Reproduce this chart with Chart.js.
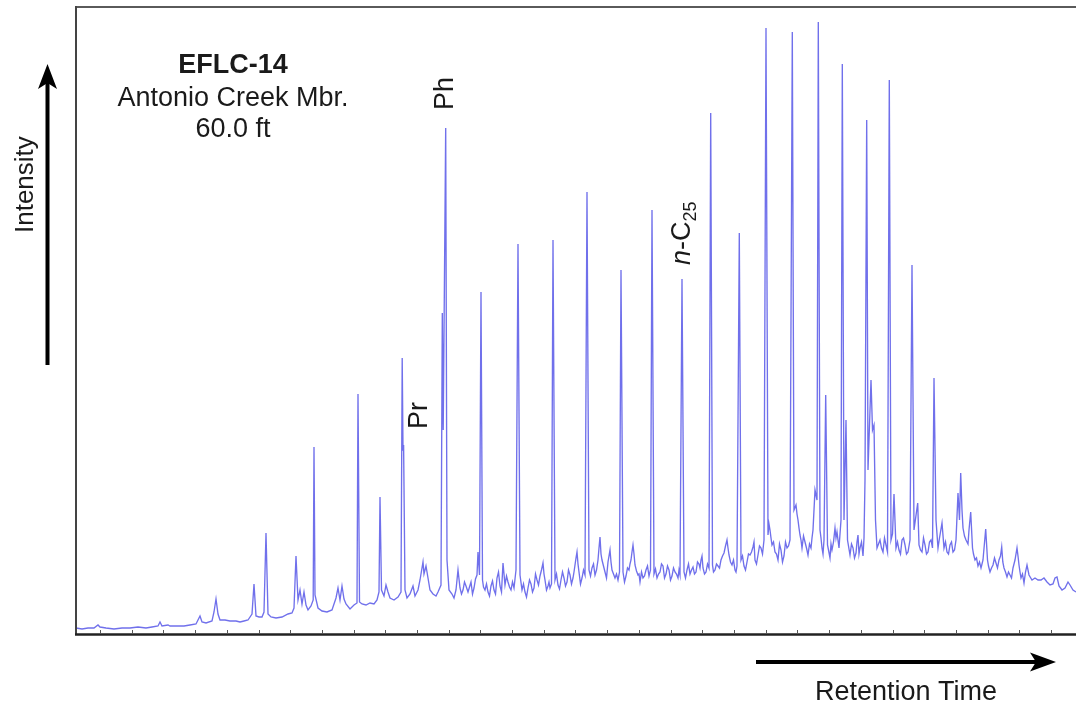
<!DOCTYPE html>
<html>
<head>
<meta charset="utf-8">
<script src="https://cdn.jsdelivr.net/npm/chart.js@4.4.0/dist/chart.umd.min.js"></script>
<style>
  html, body { margin: 0; padding: 0; background: #ffffff; }
  canvas { display: block; }
</style>
</head>
<body>
<canvas id="c" width="1076" height="709"></canvas>
<script>
// Retention time (arbitrary scan units) and detector intensity (arbitrary units)
const retentionTime = [
  0, 6, 12, 18, 22, 24, 30, 38, 46, 54,
  62, 70, 76, 82, 84, 86, 92, 94, 100, 108,
  114, 120, 122, 124, 126, 130, 136, 138, 140, 142,
  144, 149, 154, 160, 164, 168, 172, 176, 178, 180,
  183, 186, 188, 190, 192, 195, 200, 206, 212, 216,
  218, 220, 222, 224, 226, 228, 230, 232, 235, 237.2,
  238, 239, 242, 246, 251, 256, 260, 262, 264, 266,
  268, 270, 274, 278, 281, 282, 283.5, 286, 290, 294,
  298, 301, 303, 304, 305.5, 308, 310, 312, 314, 318,
  322, 325, 326.2, 327, 327.6, 329, 331, 334, 337, 339,
  342, 344, 346, 347, 348, 350, 352, 354, 357, 360,
  362, 365, 366.3, 367.2, 369.7, 371, 373, 376, 378, 380,
  382, 384, 387, 390, 392, 395, 398, 401, 402, 403.5,
  405, 406.5, 409, 412, 415, 418, 421, 424, 427, 429,
  432, 435, 438, 440, 442, 444, 446, 449, 452, 455,
  458, 461, 464, 467, 469, 472, 474, 477, 479, 482,
  485, 488, 491, 494, 497, 499, 501, 503, 506, 509,
  511, 513, 516, 519, 522, 524, 526, 529, 532, 534,
  536, 539, 542, 545, 547, 550, 553, 555, 557, 559,
  562, 564, 567, 570, 573, 576, 578, 581, 584, 587,
  590, 593, 596, 599, 602, 604, 606, 608, 611, 614,
  617, 620, 623, 625, 627, 630, 633, 634.7, 636.5, 639,
  642, 645, 648, 651, 653, 656, 659, 661, 663.3, 665,
  668, 671, 674, 677, 679, 682, 685, 688, 690, 692,
  694, 696, 699, 702, 705, 708, 711, 714, 716.3, 718,
  720, 722, 724, 726, 729, 732, 735, 737, 739, 741,
  742.3, 744, 746, 748, 749.7, 751.5, 754, 756, 759, 761,
  763, 765, 766.3, 768, 770, 771.5, 774, 777, 780, 782,
  784, 787, 789, 790.7, 792, 795, 796.5, 798, 799.5, 801,
  804, 807, 810, 813.3, 815, 818, 820, 823, 826, 829,
  832, 834, 836, 838, 841.7, 843, 846, 849, 852, 855,
  858, 860, 862, 866, 868, 871, 874, 877, 880, 882,
  883.5, 884.7, 886, 887, 890, 892, 894.7, 896.5, 899, 902,
  905, 907, 909.7, 911.5, 914, 917, 920, 923, 925.7, 928,
  931, 934, 937, 939, 941, 943, 945, 948, 951, 953,
  956, 959, 962, 965, 968, 971, 974, 977, 979, 981,
  983, 986, 989, 992, 994, 997, 1000
];
const intensity = [
  6, 5, 6, 6, 9, 7, 6, 5, 6, 6,
  7, 6, 7, 8, 12, 8, 9, 8, 8, 8,
  9, 10, 14, 18, 12, 11, 13, 22, 35, 20,
  14, 14, 13, 13, 12, 13, 14, 20, 50, 18,
  17, 17, 22, 101, 20, 17, 16, 17, 20, 21,
  26, 78, 34, 44, 30, 42, 29, 24, 28, 34,
  187, 39, 26, 23, 22, 24, 36, 46, 34, 48,
  35, 30, 25, 29, 31, 240, 32, 30, 29, 31,
  30, 34, 42, 137, 44, 38, 49, 42, 36, 34,
  37, 42, 276, 184, 189, 44, 36, 40, 48, 38,
  44, 54, 66, 72, 60, 68, 56, 44, 40, 38,
  42, 49, 321, 204, 506, 74, 44, 40, 36, 44,
  64, 46, 44, 48, 42, 52, 46, 59, 82, 59,
  342, 54, 44, 42, 48, 44, 56, 48, 71, 49,
  52, 44, 46, 64, 390, 59, 44, 42, 46, 50,
  46, 54, 58, 71, 54, 48, 46, 394, 54, 49,
  54, 56, 52, 59, 56, 69, 82, 62, 56, 59,
  442, 64, 66, 59, 74, 97, 74, 62, 72, 84,
  64, 56, 54, 364, 62, 58, 64, 74, 89, 69,
  59, 52, 56, 64, 58, 424, 60, 56, 62, 68,
  60, 64, 58, 62, 56, 59, 355, 62, 64, 60,
  67, 62, 70, 74, 66, 62, 66, 521, 69, 64,
  68, 74, 81, 94, 79, 69, 64, 68, 401, 74,
  68, 72, 79, 87, 74, 79, 86, 94, 606, 99,
  104, 89, 82, 74, 84, 78, 86, 94, 602, 124,
  129, 114, 99, 86, 92, 79, 86, 104, 144, 134,
  612, 104, 86, 94, 239, 89, 76, 84, 106, 102,
  86, 114, 570, 114, 214, 94, 79, 86, 81, 99,
  86, 78, 154, 514, 164, 254, 204, 209, 114, 86,
  94, 82, 89, 554, 94, 140, 86, 84, 94, 89,
  82, 94, 369, 104, 131, 89, 82, 89, 82, 94,
  256, 114, 86, 111, 86, 82, 89, 82, 94, 141,
  114, 161, 124, 106, 94, 90, 122, 86, 74, 68,
  66, 74, 105, 74, 62, 69, 71, 74, 87, 66,
  57, 59, 66, 74, 86, 69, 56, 51, 69, 59,
  54, 56, 54, 54, 56, 52, 49, 50, 56, 57,
  48, 44, 46, 52, 49, 44, 42
];
// Small baseline wiggles (unresolved complex mixture noise) read between the main points
const noiseTime = [
  385.5, 388.5, 393.5, 396.5, 399.5,
  407.5, 410.5, 413.5, 416.5, 419.5, 422.5, 425.5, 430.5, 433.5, 436.5, 439,
  447.5, 450.5, 453.5, 456.5, 459.5, 462.5, 465.5, 468, 470.5, 473, 475.5,
  480.5, 483.5, 486.5, 489.5, 492.5, 495.5, 498, 500, 502, 504.5, 507.5,
  514.5, 517.5, 520.5, 523, 525, 527.5, 530.5, 533, 535, 537.5, 540.5, 543.5,
  548.5, 551.5, 554, 556, 558, 560.5, 563, 565.5, 568.5, 571.5, 574.5,
  579.5, 582.5, 585.5, 588.5, 591.5, 594.5, 597.5, 600.5, 603,
  609.5, 612.5, 615.5, 618.5, 621.5, 624, 626, 628.5, 631.5,
  637.5, 640.5, 643.5, 646.5, 649.5, 652, 654.5, 657.5, 660,
  666.5, 669.5, 672.5, 675.5, 678, 680.5, 683.5, 686.5,
  693, 695, 697.5, 700.5, 703.5, 706.5, 709.5, 712.5,
  721, 723, 725, 727.5, 730.5, 733.5, 736,
  745, 747, 752.5, 755, 757.5, 760, 762, 764,
  772.5, 775.5, 778.5, 781, 783, 785.5, 788,
  802.5, 805.5, 808.5, 811.5, 816.5, 821.5, 824.5, 827.5, 830.5, 833,
  844.5, 847.5, 850.5, 853.5, 856.5, 863.5, 869.5, 872.5, 875.5, 878.5,
  888.5, 893, 897.5, 900.5, 903.5, 906, 912.5, 915.5, 918.5, 921.5,
  924.5, 926.8, 929.5, 932.5, 935.5, 938, 942, 944, 946.5, 949.5
];
const noiseIntensity = [
  40, 52, 47, 40, 55,
  47, 50, 38, 53, 40, 62, 42, 58, 47, 52, 55,
  50, 37, 54, 42, 60, 49, 64, 60, 44, 52, 50,
  60, 45, 62, 48, 64, 50, 62, 76, 70, 50, 64,
  58, 70, 64, 86, 80, 68, 56, 78, 72, 60, 60, 62,
  52, 66, 70, 82, 80, 63, 60, 62, 58, 68, 64,
  65, 60, 70, 56, 68, 54, 66, 60, 64,
  56, 70, 64, 60, 72, 66, 78, 60, 70,
  62, 70, 66, 78, 88, 86, 72, 74, 62,
  78, 64, 80, 82, 92, 70, 88, 80,
  110, 96, 92, 80, 90, 72, 92, 88,
  120, 106, 94, 98, 86, 90, 96,
  96, 80, 84, 90, 92, 96, 94, 100,
  88, 90, 76, 92, 80, 92, 96,
  90, 86, 96, 82, 100, 92, 80, 96, 80, 88,
  84, 96, 80, 92, 86, 96, 92, 80, 92, 84,
  98, 104, 80, 76, 72, 70, 68, 66, 76, 66,
  78, 72, 62, 62, 56, 70, 78, 62, 60, 62
];
// Axis tick marks (no labels) along retention time
const tickStart = 24;
const tickStep = 31.7;
const xRange = [0, 1000];
const yRange = [0, 627];

if (retentionTime.length !== intensity.length) {
  console.error('length mismatch', retentionTime.length, intensity.length);
}
if (noiseTime.length !== noiseIntensity.length) {
  console.error('noise length mismatch', noiseTime.length, noiseIntensity.length);
}
const points = retentionTime.map((t, i) => ({ x: t, y: intensity[i] }))
  .concat(noiseTime.map((t, i) => ({ x: t, y: noiseIntensity[i] })))
  .sort((a, b) => a.x - b.x);

const FONT = '"Liberation Sans", Arial, Helvetica, sans-serif';

const decor = {
  id: 'decor',
  afterDraw(chart) {
    const ctx = chart.ctx;
    const a = chart.chartArea;
    const xs = chart.scales.x;
    ctx.save();
    // frame
    ctx.lineCap = 'butt';
    ctx.strokeStyle = '#5a5a5a';
    ctx.lineWidth = 2;
    ctx.beginPath();
    ctx.moveTo(a.left, a.top); ctx.lineTo(a.right, a.top);
    ctx.stroke();
    ctx.strokeStyle = '#444';
    ctx.beginPath();
    ctx.moveTo(a.left, a.top - 1); ctx.lineTo(a.left, a.bottom + 1);
    ctx.stroke();
    ctx.strokeStyle = '#222';
    ctx.lineWidth = 2.5;
    ctx.beginPath();
    ctx.moveTo(a.left - 1, a.bottom + 0.5); ctx.lineTo(a.right, a.bottom + 0.5);
    ctx.stroke();
    // tick marks (inward)
    ctx.strokeStyle = '#555';
    ctx.lineWidth = 1;
    for (let v = tickStart; v <= xRange[1]; v += tickStep) {
      const px = Math.round(xs.getPixelForValue(v)) + 0.5;
      ctx.beginPath();
      ctx.moveTo(px, a.bottom);
      ctx.lineTo(px, a.bottom - 4);
      ctx.stroke();
    }
    // sample title
    ctx.fillStyle = '#1a1a1a';
    ctx.textAlign = 'center';
    ctx.textBaseline = 'alphabetic';
    ctx.font = 'bold 27px ' + FONT;
    ctx.fillText('EFLC-14', 233, 73);
    ctx.font = '27px ' + FONT;
    ctx.fillText('Antonio Creek Mbr.', 233, 106);
    ctx.fillText('60.0 ft', 233, 137);
    // rotated labels
    function rot(x, y, fn) {
      ctx.save();
      ctx.translate(x, y);
      ctx.rotate(-Math.PI / 2);
      ctx.textAlign = 'left';
      fn();
      ctx.restore();
    }
    rot(453, 110, () => { ctx.font = '27px ' + FONT; ctx.fillText('Ph', 0, 0); });
    rot(427, 429, () => { ctx.font = '27px ' + FONT; ctx.fillText('Pr', 0, 0); });
    rot(690, 265, () => {
      ctx.font = 'italic 27px ' + FONT;
      ctx.fillText('n', 0, 0);
      let w = ctx.measureText('n').width;
      ctx.font = '27px ' + FONT;
      ctx.fillText('-C', w, 0);
      w += ctx.measureText('-C').width;
      ctx.font = '18px ' + FONT;
      ctx.fillText('25', w, 6);
    });
    rot(33, 233, () => { ctx.font = '26px ' + FONT; ctx.fillText('Intensity', 0, 0); });
    // retention time label
    ctx.textAlign = 'center';
    ctx.font = '27px ' + FONT;
    ctx.fillText('Retention Time', 906, 700);
    // arrows
    ctx.strokeStyle = '#000';
    ctx.fillStyle = '#000';
    ctx.lineWidth = 4;
    ctx.beginPath();
    ctx.moveTo(47.5, 365); ctx.lineTo(47.5, 82);
    ctx.stroke();
    ctx.beginPath();
    ctx.moveTo(47.5, 64); ctx.lineTo(57, 89); ctx.lineTo(47.5, 83); ctx.lineTo(38, 89);
    ctx.closePath(); ctx.fill();
    ctx.beginPath();
    ctx.moveTo(756, 662); ctx.lineTo(1038, 662);
    ctx.stroke();
    ctx.beginPath();
    ctx.moveTo(1056, 662); ctx.lineTo(1030, 652.5); ctx.lineTo(1036, 662); ctx.lineTo(1030, 671.5);
    ctx.closePath(); ctx.fill();
    ctx.restore();
  }
};

new Chart(document.getElementById('c'), {
  type: 'line',
  data: {
    datasets: [{
      data: points,
      borderColor: 'rgba(80, 80, 230, 0.82)',
      borderWidth: 1.35,
      pointRadius: 0,
      tension: 0,
      fill: false
    }]
  },
  options: {
    responsive: false,
    animation: false,
    devicePixelRatio: 1,
    layout: { padding: { left: 76, right: 0, top: 7, bottom: 75 } },
    plugins: { legend: { display: false }, tooltip: { enabled: false } },
    scales: {
      x: { type: 'linear', min: xRange[0], max: xRange[1], display: false },
      y: { type: 'linear', min: yRange[0], max: yRange[1], display: false }
    }
  },
  plugins: [decor]
});
</script>
</body>
</html>
